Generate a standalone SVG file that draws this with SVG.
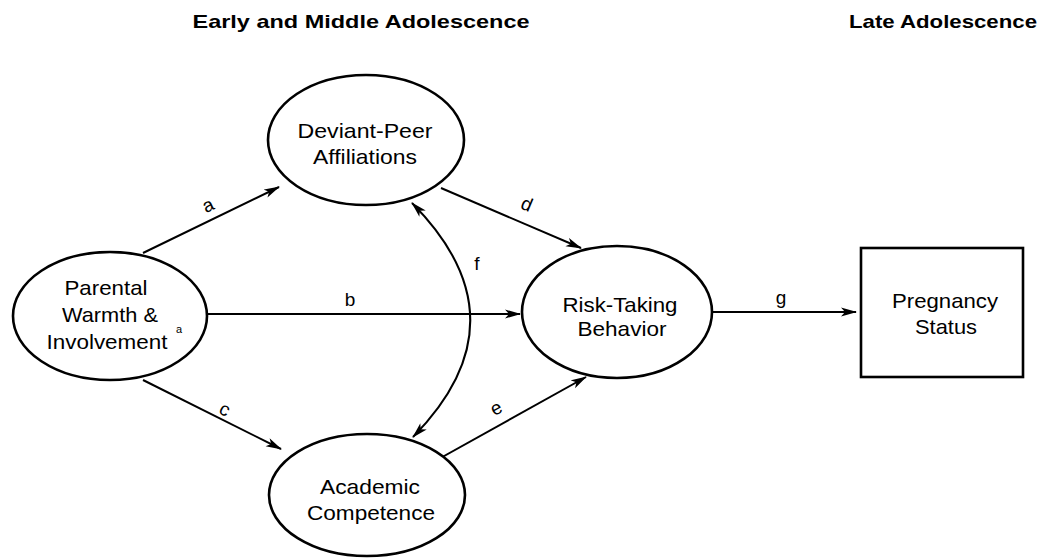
<svg xmlns="http://www.w3.org/2000/svg" width="1041" height="558" viewBox="0 0 1041 558">
  <style>
    .node { fill: #fff; stroke: #000; stroke-width: 2.6; }
    .lbl { font-family: "Liberation Sans", Arial, sans-serif; font-size: 21px; text-anchor: middle; fill: #000; }
    .head { font-family: "Liberation Sans", Arial, sans-serif; font-size: 19px; font-weight: bold; text-anchor: middle; fill: #000; }
    .path-lbl { font-family: "Liberation Sans", Arial, sans-serif; font-size: 19px; text-anchor: middle; dominant-baseline: central; fill: #000; }
    .edge { fill: none; stroke: #000; stroke-width: 2; }
  </style>
  <defs>
    <marker id="arrow" viewBox="0 0 16 10" refX="15" refY="5" markerWidth="16" markerHeight="10" markerUnits="userSpaceOnUse" orient="auto-start-reverse">
      <path d="M0,0.5 L16,5 L0,9.5 L4,5 Z" fill="#000"/>
    </marker>
  </defs>

  <!-- period headings -->
  <text class="head" x="361" y="28" textLength="337" lengthAdjust="spacingAndGlyphs">Early and Middle Adolescence</text>
  <text class="head" x="943" y="28" textLength="188" lengthAdjust="spacingAndGlyphs">Late Adolescence</text>

  <!-- connectors -->
  <g id="connectors">
    <line class="edge" x1="143" y1="253" x2="279" y2="187" marker-end="url(#arrow)"/>
    <line class="edge" x1="207" y1="314" x2="520" y2="314" marker-end="url(#arrow)"/>
    <line class="edge" x1="143" y1="380" x2="281" y2="449" marker-end="url(#arrow)"/>
    <line class="edge" x1="441" y1="188" x2="581" y2="248" marker-end="url(#arrow)"/>
    <line class="edge" x1="419" y1="470" x2="586" y2="377" marker-end="url(#arrow)"/>
    <path class="edge" d="M412,203 Q528,320 413,437" marker-start="url(#arrow)" marker-end="url(#arrow)"/>
    <line class="edge" x1="713" y1="312" x2="856" y2="312" marker-end="url(#arrow)"/>
    <!-- path labels, turned to follow their lines -->
    <text class="path-lbl" transform="translate(208,205) rotate(-26)">a</text>
    <text class="path-lbl" x="350" y="299">b</text>
    <text class="path-lbl" transform="translate(225,409) rotate(27)">c</text>
    <text class="path-lbl" transform="translate(527,204) rotate(23)">d</text>
    <text class="path-lbl" transform="translate(496,408) rotate(-29)">e</text>
    <text class="path-lbl" x="477" y="263">f</text>
    <text class="path-lbl" x="781" y="297">g</text>
  </g>

  <!-- nodes -->
  <g id="parental">
    <ellipse class="node" cx="110" cy="316" rx="97" ry="64"/>
    <text class="lbl" x="106" y="295" textLength="83" lengthAdjust="spacingAndGlyphs">Parental</text>
    <text class="lbl" x="110" y="322" textLength="96" lengthAdjust="spacingAndGlyphs">Warmth &amp;</text>
    <text class="lbl" x="107" y="349" textLength="121" lengthAdjust="spacingAndGlyphs">Involvement</text>
    <text x="176" y="333" font-family="Liberation Sans, Arial, sans-serif" font-size="11" fill="#000">a</text>
  </g>
  <g id="deviant">
    <ellipse class="node" cx="366" cy="140" rx="98" ry="65"/>
    <text class="lbl" x="365" y="138" textLength="135" lengthAdjust="spacingAndGlyphs">Deviant-Peer</text>
    <text class="lbl" x="365" y="164" textLength="104" lengthAdjust="spacingAndGlyphs">Affiliations</text>
  </g>
  <g id="risk">
    <ellipse class="node" cx="617" cy="312" rx="95" ry="66"/>
    <text class="lbl" x="620" y="312" textLength="115" lengthAdjust="spacingAndGlyphs">Risk-Taking</text>
    <text class="lbl" x="622" y="336" textLength="89" lengthAdjust="spacingAndGlyphs">Behavior</text>
  </g>
  <g id="academic">
    <ellipse class="node" cx="367" cy="495" rx="98" ry="61"/>
    <text class="lbl" x="370" y="494" textLength="100" lengthAdjust="spacingAndGlyphs">Academic</text>
    <text class="lbl" x="371" y="520" textLength="128" lengthAdjust="spacingAndGlyphs">Competence</text>
  </g>
  <g id="pregnancy">
    <rect class="node" x="861" y="248" width="162" height="129"/>
    <text class="lbl" x="945" y="308" textLength="106" lengthAdjust="spacingAndGlyphs">Pregnancy</text>
    <text class="lbl" x="946" y="334" textLength="62" lengthAdjust="spacingAndGlyphs">Status</text>
  </g>
</svg>
